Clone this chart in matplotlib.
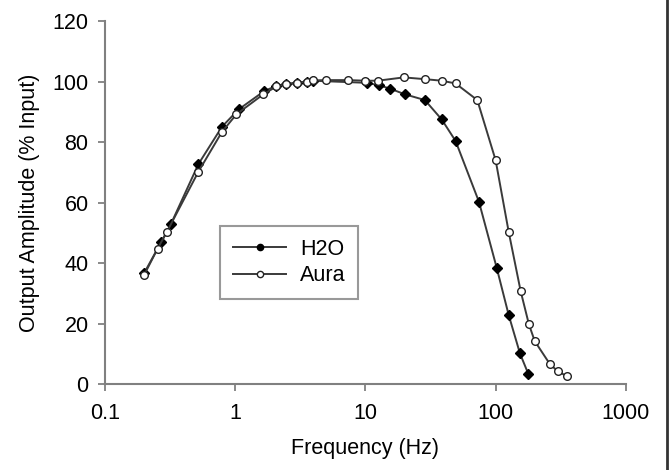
import matplotlib
matplotlib.use("Agg")
import matplotlib.pyplot as plt
from matplotlib.lines import Line2D
from matplotlib.ticker import FixedLocator, NullLocator, FixedFormatter

plt.rcParams['font.family'] = ['Liberation Sans', 'DejaVu Sans']

h2o_freq = [0.2, 0.27, 0.32, 0.52, 0.79, 1.06, 1.67, 2.07, 2.47, 2.98, 3.56, 3.93,
            10.2, 12.7, 15.4, 20.1, 28.6, 38.5, 49.2, 74.4, 101.8, 126, 153.8, 178]
h2o_amp = [36.8, 47.0, 52.9, 72.7, 85.1, 90.8, 96.9, 98.6, 99.2, 99.6, 100.0, 100.3,
           99.6, 98.8, 97.7, 95.8, 93.9, 87.5, 80.4, 60.3, 38.5, 22.8, 10.1, 3.4]

aura_freq = [0.2, 0.253, 0.298, 0.52, 0.79, 1.02, 1.64, 2.07, 2.47, 2.98, 3.56, 3.93,
             4.98, 7.36, 10.0, 12.4, 19.7, 28.9, 38.5, 49.2, 72.3, 100, 126, 155.7,
             180, 199.6, 261.8, 301, 351.6]
aura_amp = [36.2, 44.8, 50.3, 70.2, 83.4, 89.2, 95.8, 98.4, 99.2, 99.6, 100.0, 100.4,
            100.5, 100.5, 100.3, 100.3, 101.4, 100.8, 100.3, 99.4, 93.9, 74.0, 50.3,
            30.7, 19.8, 14.2, 6.5, 4.2, 2.6]

series_labels = ['H2O', 'Aura']
x_ticks = [0.1, 1, 10, 100, 1000]
x_ticklabels = ['0.1', '1', '10', '100', '1000']
y_ticks = [0, 20, 40, 60, 80, 100, 120]

fig = plt.figure(figsize=(6.7, 4.7), dpi=100)
ax = fig.add_axes([0.157, 0.183, 0.777, 0.772])

line_col = '#3a3a3a'
ax.plot(h2o_freq, h2o_amp, color=line_col, lw=1.4, marker='D', ms=5,
        mfc='black', mec='black', zorder=3)
ax.plot(aura_freq, aura_amp, color=line_col, lw=1.4, marker='o', ms=5.5,
        mfc='white', mec='#222222', mew=1.0, zorder=4)

ax.set_xscale('log')
ax.set_xlim(0.1, 1000)
ax.set_ylim(0, 120)
ax.xaxis.set_major_locator(FixedLocator(x_ticks))
ax.xaxis.set_major_formatter(FixedFormatter(x_ticklabels))
ax.xaxis.set_minor_locator(NullLocator())
ax.set_yticks(y_ticks)

for s in ['top', 'right']:
    ax.spines[s].set_visible(False)
for s in ['left', 'bottom']:
    ax.spines[s].set_color('#808080')
    ax.spines[s].set_linewidth(1.5)

ax.tick_params(axis='both', direction='out', length=5, width=1.3, color='#808080',
               labelsize=15.5, labelcolor='black')
ax.tick_params(axis='x', pad=9)
ax.tick_params(axis='y', pad=7)

ax.set_xlabel('Frequency (Hz)', fontsize=15.5, labelpad=10)
ax.set_ylabel('Output Amplitude (% Input)', fontsize=15.5, labelpad=9)

handles = [
    Line2D([], [], color=line_col, lw=1.4, marker='o', ms=4.5, mfc='black', mec='black'),
    Line2D([], [], color=line_col, lw=1.4, marker='o', ms=4.5, mfc='white', mec='#222222'),
]
leg = ax.legend(handles, series_labels, loc='lower left', bbox_to_anchor=(0.221, 0.234),
                borderaxespad=0, fontsize=15.5, frameon=True, fancybox=False,
                handlelength=2.45, borderpad=0.6, labelspacing=0.25,
                handletextpad=0.65)
leg.get_frame().set_edgecolor('#808080')
leg.get_frame().set_linewidth(1.5)

fig.add_artist(Line2D([0.9955, 0.9955], [0, 1], transform=fig.transFigure,
                      color='#333333', lw=2))

fig.savefig('out.png', dpi=100)
